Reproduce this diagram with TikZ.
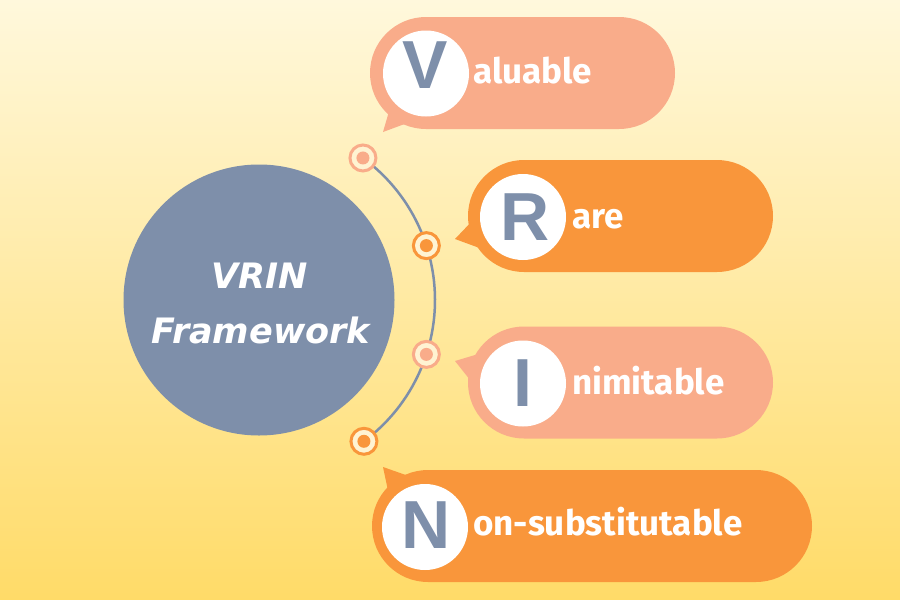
\documentclass[tikz,border=0pt]{standalone}
\usepackage{fontspec}
\setmainfont{Fira Sans}
\newfontfamily\letterfont{Liberation Sans}
\newfontfamily\titlefont{DejaVu Sans}
\usetikzlibrary{shapes.misc,calc}
\definecolor{bgtop}{HTML}{FFF8DC}
\definecolor{bgbot}{HTML}{FFDB68}
\definecolor{salmon}{HTML}{F9AC8A}
\definecolor{orangec}{HTML}{F9963B}
\definecolor{slate}{HTML}{7E8FAA}
\definecolor{dotfill}{HTML}{FFF3D2}
\tikzset{
  pill/.style={rounded rectangle, inner sep=0pt, minimum height=112pt},
  lettercircle/.style={circle, fill=white, inner sep=0pt, minimum size=86pt},
  bigletter/.style={anchor=base, inner sep=0pt, text=slate, font=\letterfont\bfseries\fontsize{68}{70}\selectfont},
  label/.style={anchor=base west, inner sep=0pt, text=white, font=\bfseries\fontsize{35}{40}\selectfont},
  title/.style={anchor=base, inner sep=0pt, text=white, font=\titlefont\bfseries\itshape\fontsize{35}{38}\selectfont},
  ringdot/.style={circle, draw=#1, line width=3pt, fill=dotfill, inner sep=0pt, minimum size=26pt,
    path picture={\fill[#1] (path picture bounding box.center) circle (6.5pt);}},
}
\begin{document}
\begin{tikzpicture}[x=1pt,y=-1pt]
\useasboundingbox (0,0) rectangle (900,600);
\shade[top color=bgtop, bottom color=bgbot] (0,0) rectangle (900,600);

% central circle
\node[circle, fill=slate, inner sep=0pt, minimum size=271pt] (c) at (259,300) {};
\node[title] (t1) at (260,288) {VRIN};
\node[title] (t2) at (261,343) {Framework};

% arc
\draw[slate, line width=2.5pt] ([shift={(-54:176pt)}]c.center) arc[start angle=-54, end angle=54, radius=176pt];
\node[ringdot=salmon] (d1) at ($(c.center)+(53.8:176pt)$) {};
\node[ringdot=orangec] (d2) at ($(c.center)+(18:176pt)$) {};
\node[ringdot=salmon] (d3) at ($(c.center)+(-18:176pt)$) {};
\node[ringdot=orangec] (d4) at ($(c.center)+(-53.4:176pt)$) {};

% V bubble
\fill[salmon] (383,132) -- (390,108) -- (410,122) -- cycle;
\node[pill, fill=salmon, minimum width=305pt] (pv) at (522.5,73) {};
\node[lettercircle] (cv) at (426,73.5) {};
\node[bigletter] (lv) at (425,88) {V};
\node[label] (tv) at (473,83) {aluable};

% R bubble
\fill[orangec] (455,239) -- (475,218) -- (485,250) -- cycle;
\node[pill, fill=orangec, minimum width=305pt] (pr) at (620.5,216) {};
\node[lettercircle] (cr) at (523,217) {};
\node[bigletter] (lr) at (525,240) {R};
\node[label] (tr) at (572,228) {are};

% I bubble
\fill[salmon] (455,361) -- (485,352) -- (478,390) -- cycle;
\node[pill, fill=salmon, minimum width=305pt] (pi) at (620.5,382.5) {};
\node[lettercircle] (ci) at (523,383.5) {};
\node[bigletter] (li) at (523,406) {I};
\node[label] (ti) at (572,394) {nimitable};

% N bubble
\fill[orangec] (383,467) -- (420,480) -- (390,500) -- cycle;
\node[pill, fill=orangec, minimum width=440pt] (pn) at (592,526) {};
\node[lettercircle] (cn) at (425,527) {};
\node[bigletter] (ln) at (426,548) {N};
\node[label] (tn) at (473,535) {on-substitutable};
\end{tikzpicture}
\end{document}
